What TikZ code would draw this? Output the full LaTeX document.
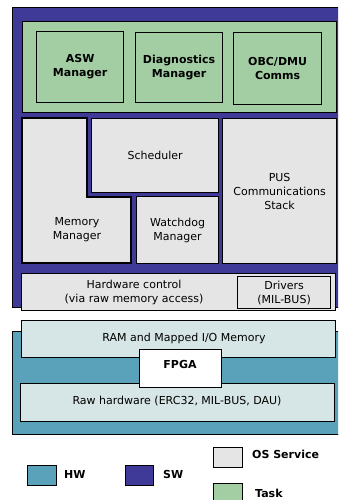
\documentclass[tikz,border=0pt]{standalone}
\usepackage{fontspec}
\setmainfont{DejaVu Sans}
\definecolor{swblue}{HTML}{3F3A98}
\definecolor{hwteal}{HTML}{5AA2B9}
\definecolor{taskgreen}{HTML}{A3CEA3}
\definecolor{osgray}{HTML}{E5E5E5}
\definecolor{hwlight}{HTML}{D6E5E5}
\begin{document}
\begin{tikzpicture}[x=1pt,y=-1pt,
  font=\fontsize{11}{14}\selectfont,
  box/.style={draw=black,line width=1.2pt,rectangle,inner sep=0pt,anchor=north west},
  taskbox/.style={box,fill=taskgreen,font=\fontsize{11}{14}\selectfont\bfseries,align=center},
  osbox/.style={box,fill=osgray,align=center},
  hwbox/.style={box,fill=hwlight,align=center},
  lbl/.style={align=center,inner sep=0pt},
  legtxt/.style={anchor=west,inner sep=0pt,font=\fontsize{11}{14}\selectfont\bfseries}]
\useasboundingbox (0,0) rectangle (338,500);
\clip (0,0) rectangle (338,500);
\fill[white] (0,0) rectangle (338,500);
% SW layer
\node[box,fill=swblue,minimum width=340pt,minimum height=300pt] (sw) at (12,7) {};
\node[box,fill=taskgreen,minimum width=314pt,minimum height=91pt] (tasks) at (22,21) {};
\node[taskbox,minimum width=87pt,minimum height=71pt] (asw) at (36,31) {ASW\\Manager};
\node[taskbox,minimum width=87pt,minimum height=70pt] (diag) at (135,32) {Diagnostics\\Manager};
\node[taskbox,minimum width=88pt,minimum height=72pt] (obc) at (233,32) {OBC/DMU\\Comms};
% OS services
\draw[line width=1.2pt,fill=osgray] (22,118) -- (87,118) -- (87,197) -- (131,197) -- (131,263) -- (22,263) -- cycle;
\node[lbl] (mem) at (77,230) {Memory\\Manager};
\node[osbox,minimum width=127pt,minimum height=74pt] (sched) at (91,118) {Scheduler};
\node[osbox,minimum width=82pt,minimum height=67pt] (wd) at (136,196) {Watchdog\\Manager};
\node[osbox,minimum width=114pt,minimum height=145pt] (pus) at (222,118) {PUS\\Communications\\Stack};
\node[box,fill=osgray,minimum width=314pt,minimum height=37pt] (hwc) at (21,273) {};
\node[lbl] (hwct) at (134,292.5) {Hardware control\\(via raw memory access)};
\node[osbox,minimum width=93pt,minimum height=32pt] (drv) at (237,276) {Drivers\\(MIL-BUS)};
% HW layer
\node[box,fill=hwteal,minimum width=340pt,minimum height=103pt] (hw) at (12,331) {};
\node[hwbox,minimum width=314pt,minimum height=37pt] (ram) at (21,320) {};
\node[lbl] (ramt) at (184,338) {RAM and Mapped I/O Memory};
\node[hwbox,minimum width=314pt,minimum height=38pt] (raw) at (20,383) {};
\node[lbl] (rawt) at (177,401) {Raw hardware (ERC32, MIL-BUS, DAU)};
\node[box,fill=white,minimum width=82pt,minimum height=38pt] (fpga) at (139,349) {};
\node[lbl,font=\fontsize{11}{14}\selectfont\bfseries] (fpgat) at (180,364) {FPGA};
% Legend
\node[box,fill=hwteal,minimum width=29pt,minimum height=20pt] (lhw) at (27,465) {};
\node[legtxt] (lhwt) at (64,474) {HW};
\node[box,fill=swblue,minimum width=28pt,minimum height=20pt] (lsw) at (125,465) {};
\node[legtxt] (lswt) at (163,474) {SW};
\node[box,fill=osgray,minimum width=29pt,minimum height=20pt] (los) at (213,447) {};
\node[legtxt] (lost) at (252,454) {OS Service};
\node[box,fill=taskgreen,minimum width=29pt,minimum height=20pt] (ltask) at (213,483) {};
\node[legtxt] (ltaskt) at (255,493) {Task};
\end{tikzpicture}
\end{document}
